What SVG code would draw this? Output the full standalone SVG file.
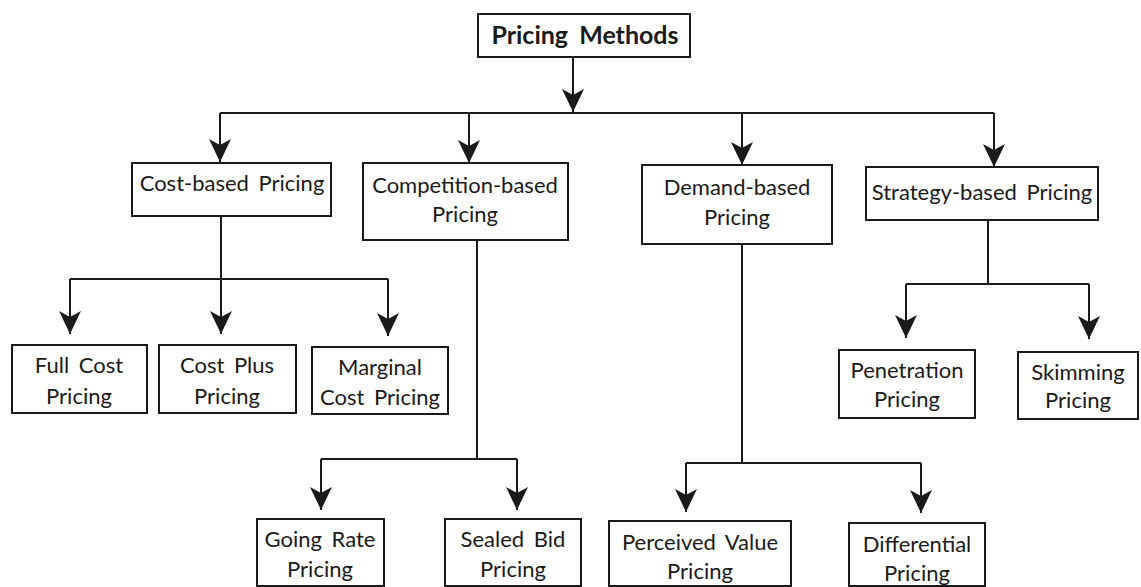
<svg xmlns="http://www.w3.org/2000/svg" width="1141" height="587" viewBox="0 0 1141 587">
<style>
.box{fill:#fff;stroke:#1a1a1a;stroke-width:2}
.t{font-family:Lato,"Open Sans","DejaVu Sans",sans-serif;font-size:22px;fill:#1a1a1a;text-anchor:middle;word-spacing:4px}
.tb{font-family:Lato,"Open Sans","DejaVu Sans",sans-serif;font-size:25px;font-weight:bold;fill:#1a1a1a;text-anchor:middle;word-spacing:5px}
.c{fill:none;stroke:#1a1a1a;stroke-width:2}
.a{fill:none;stroke:#1a1a1a;stroke-width:2;marker-end:url(#ah)}
</style>
<defs>
<marker id="ah" viewBox="-25 -12 26 24" refX="0" refY="0" markerWidth="26" markerHeight="24" markerUnits="userSpaceOnUse" orient="auto">
<path d="M0,0 L-23,-11 L-17,0 L-23,11 Z" fill="#1a1a1a"/>
</marker>
</defs>
<rect width="1141" height="587" fill="#fff"/>
<g id="connectors">
<path class="a" d="M573,57 V112"/>
<path class="c" d="M220,113 H994"/>
<path class="a" d="M220,113 V162"/>
<path class="a" d="M469,113 V163"/>
<path class="a" d="M742,113 V165"/>
<path class="a" d="M994,113 V167"/>
<path class="c" d="M221,216 V279 M70,279 H388"/>
<path class="a" d="M70,279 V334"/>
<path class="a" d="M221,279 V334"/>
<path class="a" d="M388,279 V336"/>
<path class="c" d="M477,240 V459 M321,459 H517"/>
<path class="a" d="M321,459 V510"/>
<path class="a" d="M517,459 V510"/>
<path class="c" d="M742,244 V463 M686,463 H921"/>
<path class="a" d="M686,463 V512"/>
<path class="a" d="M921,463 V513"/>
<path class="c" d="M988,220 V284 M906,284 H1089"/>
<path class="a" d="M906,284 V338"/>
<path class="a" d="M1089,284 V339"/>
</g>
<g id="pricing-methods"><rect class="box" x="478" y="14" width="212" height="43"/><text class="tb" x="585" y="44">Pricing Methods</text></g>
<g id="cost-based"><rect class="box" x="132" y="163" width="199" height="53"/><text class="t" x="232" y="191">Cost-based Pricing</text></g>
<g id="competition-based"><rect class="box" x="363" y="163" width="205" height="77"/><text class="t" x="465" y="193">Competition-based</text><text class="t" x="465" y="222">Pricing</text></g>
<g id="demand-based"><rect class="box" x="642" y="165" width="190" height="79"/><text class="t" x="737" y="195">Demand-based</text><text class="t" x="737" y="225">Pricing</text></g>
<g id="strategy-based"><rect class="box" x="866" y="167" width="232" height="53"/><text class="t" x="982" y="200">Strategy-based Pricing</text></g>
<g id="full-cost"><rect class="box" x="12" y="345" width="135" height="68"/><text class="t" x="79" y="373">Full Cost</text><text class="t" x="79" y="404">Pricing</text></g>
<g id="cost-plus"><rect class="box" x="159" y="345" width="137" height="68"/><text class="t" x="227" y="373">Cost Plus</text><text class="t" x="227" y="404">Pricing</text></g>
<g id="marginal-cost"><rect class="box" x="312" y="347" width="136" height="67"/><text class="t" x="380" y="375">Marginal</text><text class="t" x="380" y="405">Cost Pricing</text></g>
<g id="penetration"><rect class="box" x="839" y="350" width="136" height="68"/><text class="t" x="907" y="378">Penetration</text><text class="t" x="907" y="407">Pricing</text></g>
<g id="skimming"><rect class="box" x="1018" y="352" width="120" height="67"/><text class="t" x="1078" y="380">Skimming</text><text class="t" x="1078" y="408">Pricing</text></g>
<g id="going-rate"><rect class="box" x="257" y="519" width="127" height="67"/><text class="t" x="320" y="547">Going Rate</text><text class="t" x="320" y="577">Pricing</text></g>
<g id="sealed-bid"><rect class="box" x="445" y="519" width="136" height="67"/><text class="t" x="513" y="547">Sealed Bid</text><text class="t" x="513" y="577">Pricing</text></g>
<g id="perceived-value"><rect class="box" x="609" y="521" width="182" height="65"/><text class="t" x="700" y="550">Perceived Value</text><text class="t" x="700" y="579">Pricing</text></g>
<g id="differential"><rect class="box" x="849" y="523" width="136" height="63"/><text class="t" x="917" y="552">Differential</text><text class="t" x="917" y="581">Pricing</text></g>
</svg>
